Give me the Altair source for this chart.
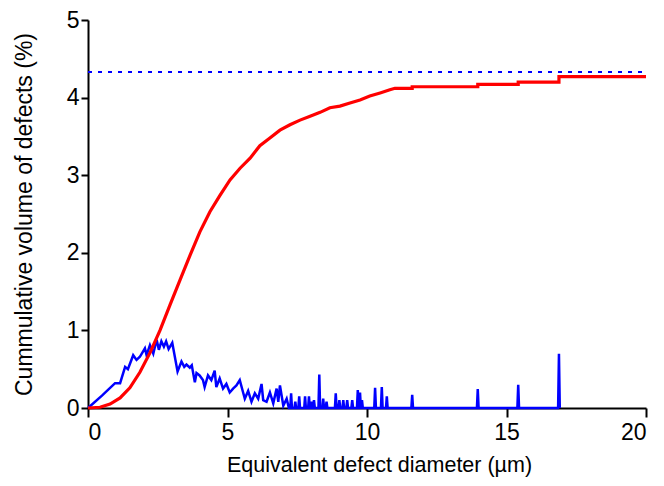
import altair as alt
import pandas as pd

# Red: cumulative volume of defects (%)
red_x = [0.0, 0.43, 0.79, 1.15, 1.5, 1.86, 2.22, 2.58, 2.94, 3.3, 3.66, 4.01, 4.37, 4.73,
         5.09, 5.45, 5.81, 6.16, 6.52, 6.88, 7.24, 7.6, 7.96, 8.32, 8.67, 9.03, 9.39,
         9.75, 10.1, 10.47, 10.82, 11.0, 11.62, 11.62, 13.97, 13.97, 15.42, 15.42,
         16.88, 16.88, 20.0]
red_y = [0.0, 0.01, 0.05, 0.13, 0.26, 0.46, 0.71, 1.0, 1.33, 1.65, 1.97, 2.27, 2.53, 2.74,
         2.94, 3.09, 3.22, 3.38, 3.48, 3.58, 3.65, 3.71, 3.76, 3.81, 3.87, 3.89, 3.93,
         3.97, 4.02, 4.06, 4.1, 4.12, 4.12, 4.14, 4.14, 4.17, 4.17, 4.2,
         4.2, 4.27, 4.27]

# Blue: size distribution (continuous part)
blue_x = [0.0, 0.5, 0.97, 1.15, 1.33, 1.43, 1.62, 1.74, 1.86, 2.04, 2.1, 2.22, 2.34, 2.46,
          2.54, 2.63, 2.72, 2.8, 2.89, 3.02, 3.21, 3.35, 3.45, 3.53, 3.65, 3.72, 3.83,
          3.89, 4.0, 4.12, 4.18, 4.3, 4.42, 4.54, 4.6, 4.72, 4.84, 4.96, 5.08, 5.2,
          5.32, 5.44, 5.56, 5.62, 5.74, 5.86, 5.98, 6.1, 6.22, 6.28, 6.4, 6.52, 6.64,
          6.76, 6.82, 6.88, 7.0, 7.12, 7.2]
blue_y = [0.0, 0.16, 0.32, 0.32, 0.53, 0.5, 0.68, 0.62, 0.66, 0.77, 0.68, 0.81, 0.7, 0.88,
          0.75, 0.86, 0.79, 0.86, 0.76, 0.84, 0.47, 0.6, 0.53, 0.56, 0.52, 0.55, 0.33,
          0.45, 0.42, 0.36, 0.27, 0.42, 0.36, 0.48, 0.27, 0.38, 0.25, 0.31, 0.2, 0.25,
          0.29, 0.36, 0.2, 0.12, 0.22, 0.08, 0.19, 0.12, 0.31, 0.1, 0.08, 0.2, 0.06,
          0.25, 0.08, 0.29, 0.03, 0.12, 0.0]

# Blue: isolated spikes at larger diameters
spike_x = [7.28, 7.43, 7.57, 7.78, 7.92, 8.02, 8.1, 8.29, 8.43, 8.55, 8.88, 9.01, 9.15,
           9.29, 9.47, 9.67, 9.75, 9.82, 10.29, 10.53, 10.71, 11.62, 13.97, 15.42, 16.88]
spike_h = [0.19, 0.08, 0.15, 0.15, 0.15, 0.08, 0.1, 0.43, 0.12, 0.08, 0.19, 0.1, 0.1,
           0.1, 0.1, 0.23, 0.2, 0.1, 0.26, 0.27, 0.15, 0.17, 0.245, 0.3, 0.70]

total_volume = 4.33

x_ticks = [0, 5, 10, 15, 20]
y_ticks = [0, 1, 2, 3, 4, 5]

red_df = pd.DataFrame({"x": red_x, "y": red_y, "i": range(len(red_x))})

bx, by = list(blue_x), list(blue_y)
hw = 0.03
for sx, sh in zip(spike_x, spike_h):
    bx += [sx - hw, sx, sx + hw]
    by += [0.0, sh, 0.0]
blue_df = pd.DataFrame({"x": bx, "y": by, "i": range(len(bx))})

dash_df = pd.DataFrame({"x": [0.0, 20.0], "y": [total_volume, total_volume]})

xs = alt.Scale(domain=[0, 20], nice=False, zero=False)
ys = alt.Scale(domain=[0, 5], nice=False)

xax = alt.Axis(values=x_ticks, format="d", title="Equivalent defect diameter (µm)", grid=False,
               titlePadding=10, labelPadding=4, tickSize=9, titleFontSize=21.5, titleX=291)
yax = alt.Axis(values=y_ticks, format="d", title="Cummulative volume of defects (%)", grid=False,
               titlePadding=30, labelPadding=2, tickSize=7, titleFontSize=23)

dash = alt.Chart(dash_df).mark_line(color="#0000ff", strokeWidth=2, strokeDash=[4, 6]).encode(
    x=alt.X("x:Q", scale=xs, axis=xax),
    y=alt.Y("y:Q", scale=ys, axis=yax),
)
blue = alt.Chart(blue_df).mark_line(color="#0000ff", strokeWidth=2.5, strokeJoin="miter").encode(
    x=alt.X("x:Q", scale=xs),
    y=alt.Y("y:Q", scale=ys),
    order="i:Q",
)
red = alt.Chart(red_df).mark_line(color="#ff0000", strokeWidth=3.2).encode(
    x=alt.X("x:Q", scale=xs),
    y=alt.Y("y:Q", scale=ys),
    order="i:Q",
)

chart = alt.layer(dash, blue, red).properties(
    width=558, height=388,
    autosize=alt.AutoSizeParams(type="none"),
    padding={"left": 80, "top": 12, "right": 10, "bottom": 70},
).configure_view(stroke=None).configure_axis(
    domainColor="black", domainWidth=2, tickColor="black", tickWidth=2,
    labelFont="Liberation Sans", titleFont="Liberation Sans",
    labelFontSize=23, labelColor="black", titleColor="black",
    titleFontWeight="normal", zindex=1,
)

chart.save("out.html", embed_options={"renderer": "svg", "actions": False})
